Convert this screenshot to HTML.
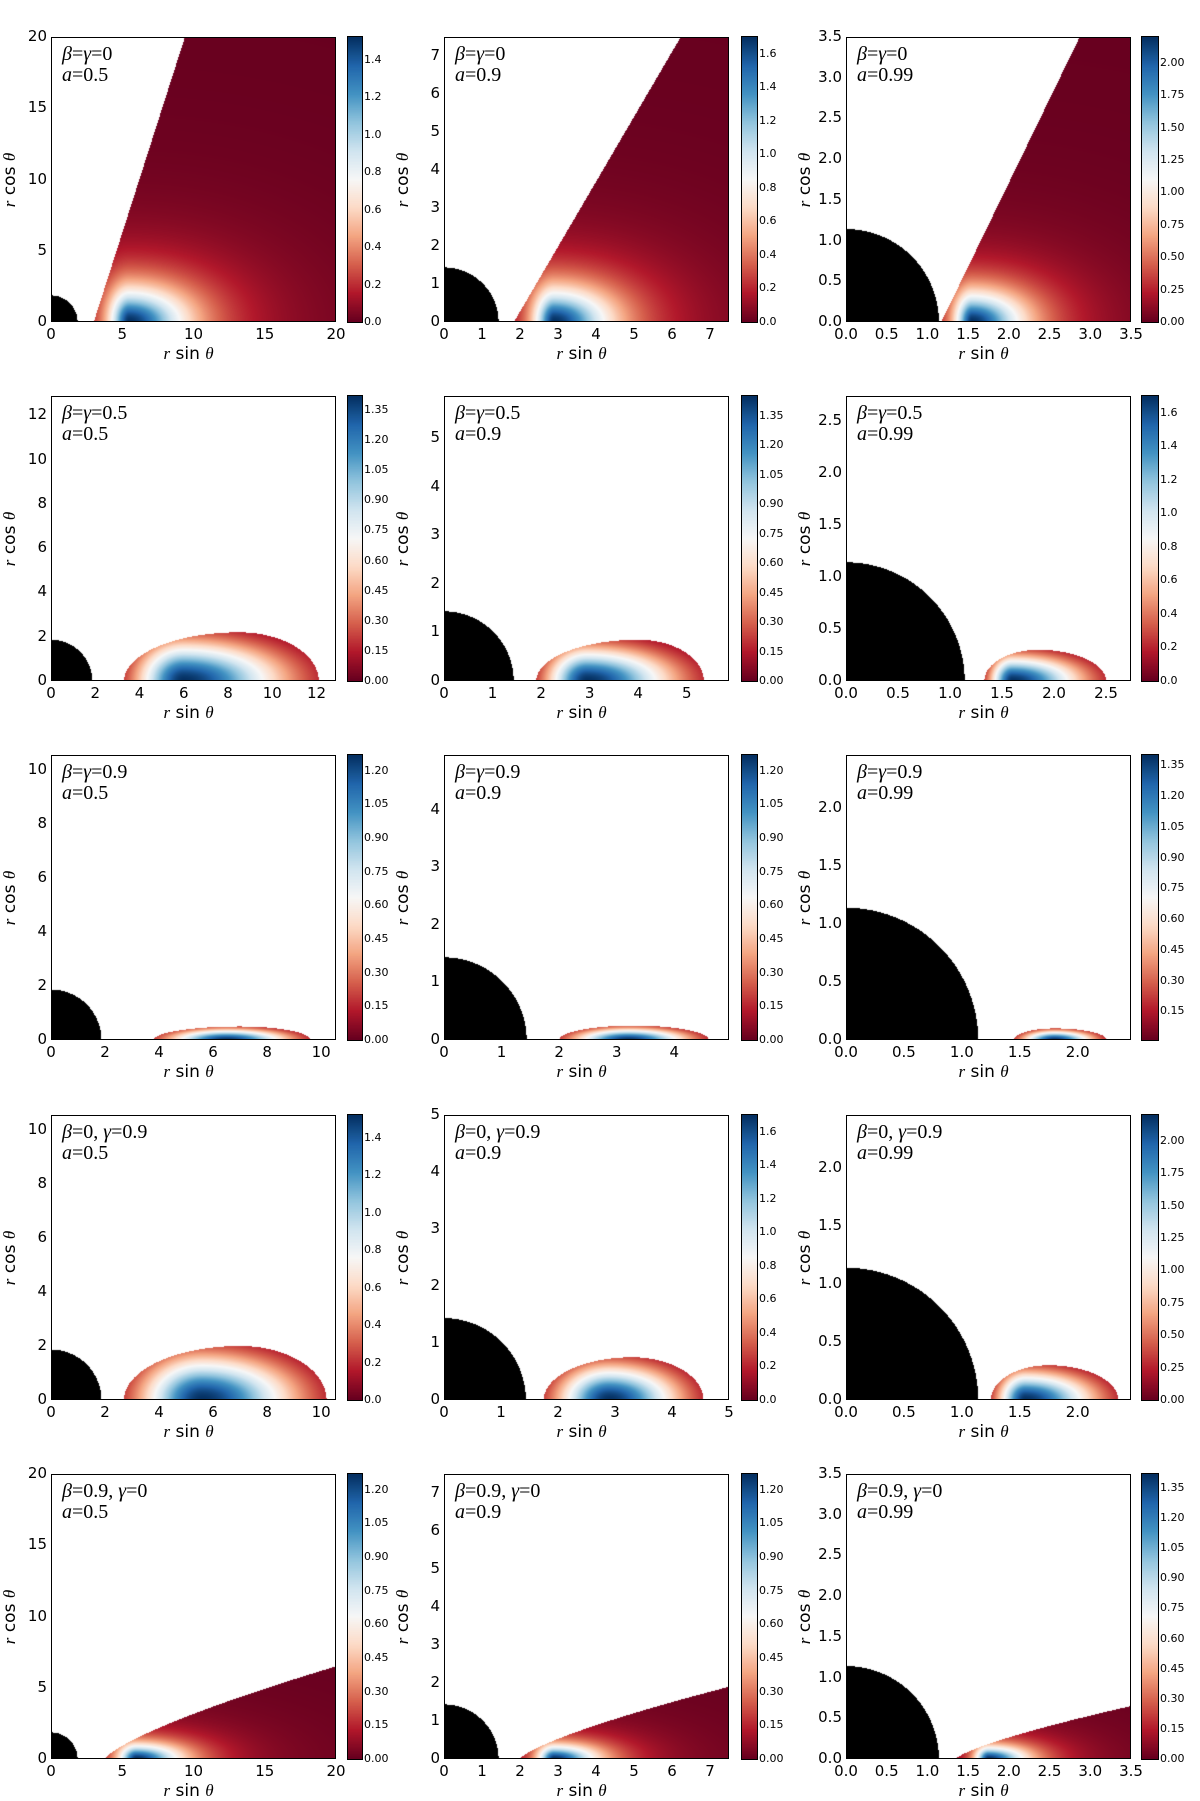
<!DOCTYPE html>
<html><head><meta charset="utf-8">
<style>
body{margin:0;background:#fff;width:1200px;height:1795px;position:relative;overflow:hidden;font-family:"DejaVu Sans","Liberation Sans",sans-serif;}
.abs{position:absolute;}
.tick{position:absolute;font-size:15px;color:#000;white-space:nowrap;}
.cbt{position:absolute;font-size:11px;color:#000;white-space:nowrap;}
.ann{position:absolute;font-family:"Liberation Serif",serif;font-size:20px;line-height:21px;white-space:nowrap;}
.ann i{font-style:italic;}
.lab{position:absolute;font-size:17px;white-space:nowrap;}
</style></head>
<body>
<script>
// ---- data arrays ----
const panelLabels1 = ["β=γ=0","β=γ=0","β=γ=0","β=γ=0.5","β=γ=0.5","β=γ=0.5","β=γ=0.9","β=γ=0.9","β=γ=0.9","β=0, γ=0.9","β=0, γ=0.9","β=0, γ=0.9","β=0.9, γ=0","β=0.9, γ=0","β=0.9, γ=0"];
const spins = [0.5,0.9,0.99,0.5,0.9,0.99,0.5,0.9,0.99,0.5,0.9,0.99,0.5,0.9,0.99];
const axisMax = [20,7.5,3.5,12.88,5.87,2.74,10.55,4.95,2.46,10.55,5.0,2.46,20,7.5,3.5];
const axisStep = [5,1,0.5,2,1,0.5,2,1,0.5,2,1,0.5,5,1,0.5];
const axisDec = [0,0,1,0,0,1,0,0,1,0,0,1,0,0,1];
const shapes = ["wedge","wedge","wedge","torus","torus","torus","torus","torus","torus","torus","torus","torus","lower","lower","lower"];
const innerEdge = [3,1.84,1.17,3.3,1.9,1.33,3.8,2.0,1.45,2.7,1.75,1.25,3.8,2.0,1.35];
const outerEdge = [9.4,6.23,2.87,12.1,5.35,2.5,9.6,4.6,2.25,10.2,4.55,2.35,6.5,1.9,0.65];
const torusHeight = [0,0,0,2.2,0.85,0.3,0.5,0.25,0.1,2.0,0.75,0.3,0,0,0];
const torusTopX = [0,0,0,8.5,4.0,1.85,7,3.3,1.8,7,3.3,1.75,0,0,0];
const peakX = [5.5,2.9,1.55,6.0,2.95,1.6,6.5,3.2,1.8,5.6,2.9,1.55,6,2.9,1.75];
const widthL = [1.6,0.6,0.24,0,0,0,0,0,0,0,0,0,1.4,0.48,0.18];
const widthR = [4.6,1.7,0.72,0,0,0,0,0,0,0,0,0,3.6,1.3,0.54];
const widthY = [2.7,1.0,0.42,0,0,0,0,0,0,0,0,0,1.2,0.42,0.18];
const cbMin = [0,0,0,0,0,0,0,0,0.01,0,0,0,0,0,0];
const cbMax = [1.52,1.7,2.2,1.42,1.45,1.7,1.27,1.27,1.4,1.52,1.7,2.2,1.27,1.27,1.42];
const cbStep = [0.2,0.2,0.25,0.15,0.15,0.2,0.15,0.15,0.15,0.2,0.2,0.25,0.15,0.15,0.15];
const cbStart = [0,0,0,0,0,0,0,0,0.15,0,0,0,0,0,0];
const cbDec = [1,1,2,2,2,1,2,2,2,1,1,2,2,2,2];
// ---- layout ----
const colLeft=[51,444,846], cbLeft=[348,742,1142], cbW=[14,15,16];
const rowTop=[37,396,755,1115,1474], PW=285, PH=285;
const cmapStops=[[103,0,31],[178,24,43],[214,96,77],[244,165,130],[253,219,199],[247,247,247],[209,229,240],[146,197,222],[67,147,195],[33,102,172],[5,48,97]];
function cmap(t){t=Math.max(0,Math.min(1,t))*10;const i=Math.min(9,Math.floor(t)),f=t-i,a=cmapStops[i],b=cmapStops[i+1];return [a[0]+(b[0]-a[0])*f,a[1]+(b[1]-a[1])*f,a[2]+(b[2]-a[2])*f];}
function field(k,x,y){
  const ymax=axisMax[k];
  if(shapes[k]==="wedge"){
    if(x<innerEdge[k]+(outerEdge[k]-innerEdge[k])*y/ymax) return null;
    const dx=x-peakX[k],s=dx<0?widthL[k]:widthR[k];const d2=(dx/s)**2+(y/widthY[k])**2;
    return cbMax[k]/Math.pow(1+d2,1.5);
  }
  if(shapes[k]==="lower"){
    if(x<innerEdge[k]) return null;
    const lim=outerEdge[k]*Math.pow((x-innerEdge[k])/(axisMax[k]-innerEdge[k]),0.75);
    if(y>lim) return null;
    const dx=x-peakX[k],s=dx<0?widthL[k]:widthR[k];const d2=(dx/s)**2+(y/widthY[k])**2;
    return cbMax[k]/Math.pow(1+d2,1.5);
  }
  const xi=innerEdge[k],xo=outerEdge[k],xh=torusTopX[k],h=torusHeight[k];
  if(x<xi||x>xo) return null;
  const t=x<xh?(xh-x)/(xh-xi):(x-xh)/(xo-xh);
  if(y>h*Math.sqrt(Math.max(0,1-t*t))) return null;
  const xp=peakX[k],dx=x-xp,s=dx<0?(xp-xi)/2.2:(xo-xp)/2.3;
  const d2=(dx/s)**2+(y/(h/2.1))**2;
  return cbMin[k]+(cbMax[k]-cbMin[k])*Math.exp(-d2/2.6);
}
function fmt(v,d){return v.toFixed(d);}
for(let k=0;k<15;k++){
  const r=Math.floor(k/3),c=k%3,L=colLeft[c],T=rowTop[r],M=axisMax[k];
  const sx=v=>L+v/M*PW, sy=v=>T+PH-v/M*PH;
  const cv=document.createElement('canvas');cv.width=PW;cv.height=PH;cv.className='abs';
  cv.style.left=L+'px';cv.style.top=T+'px';
  
  
  document.body.appendChild(cv);
  const ctx=cv.getContext('2d'),img=ctx.createImageData(PW,PH),rh=1+Math.sqrt(1-spins[k]*spins[k]);
  for(let py=0;py<PH;py++)for(let px=0;px<PW;px++){
    const x=(px+0.5)/PW*M,y=(PH-py-0.5)/PH*M,o=(py*PW+px)*4;let col=[255,255,255];
    if(x*x+y*y<=rh*rh) col=[0,0,0];
    else{const v=field(k,x,y);if(v!==null) col=cmap((v-cbMin[k])/(cbMax[k]-cbMin[k]));}
    img.data[o]=col[0];img.data[o+1]=col[1];img.data[o+2]=col[2];img.data[o+3]=255;
  }
  ctx.putImageData(img,0,0);
  const fr=document.createElement('div');fr.className='abs';
  fr.style.cssText=`left:${L}px;top:${T}px;width:${PW-2}px;height:${PH-2}px;border:1px solid #000;`;
  
  
  document.body.appendChild(fr);
  const nT=Math.floor(M/axisStep[k]+1e-6);
  for(let i=0;i<=nT;i++){
    const v=i*axisStep[k];
    const tx=document.createElement('div');tx.className='tick';tx.textContent=fmt(v,axisDec[k]);
    tx.style.left=(sx(v)-30)+'px';tx.style.width='60px';tx.style.textAlign='center';tx.style.top=(T+PH+3)+'px';
    
    
    document.body.appendChild(tx);
    const ty=document.createElement('div');ty.className='tick';ty.textContent=fmt(v,axisDec[k]);
    ty.style.left=(L-64)+'px';ty.style.width='60px';ty.style.textAlign='right';ty.style.top=(sy(v)-10)+'px';
    
    
    document.body.appendChild(ty);
  }
  const xl=document.createElement('div');xl.className='lab';
  xl.innerHTML='<span style="font-family:\'Liberation Serif\',serif;font-style:italic">r</span> sin <span style="font-family:\'Liberation Serif\',serif;font-style:italic">θ</span>';
  xl.style.left=(L+PW/2-30)+'px';xl.style.top=(T+PH+22)+'px';
  
  
  document.body.appendChild(xl);
  const yl=document.createElement('div');yl.className='lab';
  yl.innerHTML='<span style="font-family:\'Liberation Serif\',serif;font-style:italic">r</span> cos <span style="font-family:\'Liberation Serif\',serif;font-style:italic">θ</span>';
  yl.style.left=(L-68)+'px';yl.style.top=(T+PH/2-10)+'px';yl.style.transform='rotate(-90deg)';yl.style.transformOrigin='center';
  
  
  document.body.appendChild(yl);
  const an=document.createElement('div');an.className='ann';
  an.innerHTML=panelLabels1[k].replace(/([βγ])/g,'<i>$1</i>')+'<br><i>a</i>=' + spins[k];
  an.style.left=(L+11)+'px';an.style.top=(T+7)+'px';
  
  
  document.body.appendChild(an);
  // colorbar
  const cb=document.createElement('canvas');cb.width=cbW[c];cb.height=PH;cb.className='abs';
  cb.style.left=cbLeft[c]+'px';cb.style.top=T+'px';cb.style.outline='1px solid #000';
  
  
  document.body.appendChild(cb);
  const cc=cb.getContext('2d');
  for(let py=0;py<PH;py++){const col=cmap(1-py/(PH-1));cc.fillStyle=`rgb(${col[0]|0},${col[1]|0},${col[2]|0})`;cc.fillRect(0,py,cbW[c],1);}
  for(let v=cbStart[k];v<=cbMax[k]+1e-6;v+=cbStep[k]){
    const yy=T+PH-(v-cbMin[k])/(cbMax[k]-cbMin[k])*PH;
    const t=document.createElement('div');t.className='cbt';t.textContent=fmt(v,cbDec[k]);
    t.style.left=(cbLeft[c]+cbW[c]+2)+'px';t.style.top=(yy-7)+'px';
    
    
    document.body.appendChild(t);
  }
}
</script>
</body></html>
